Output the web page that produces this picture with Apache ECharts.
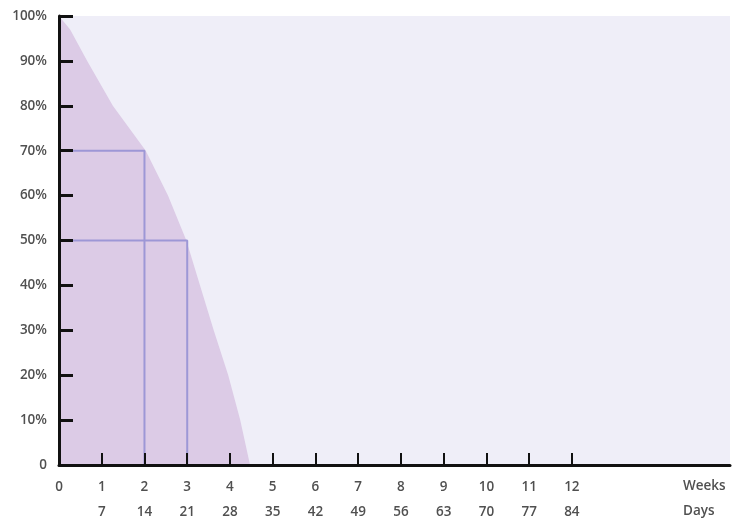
<!DOCTYPE html>
<html><head><meta charset="utf-8">
<script src="https://cdn.jsdelivr.net/npm/echarts@6/dist/echarts.min.js"></script>
<style>html,body{margin:0;padding:0;background:#fff}#c{width:740px;height:519px}</style>
</head><body><div id="c"></div>
<script>
// Curve: weeks at which each percentage level is reached
const curveWeeks = [0, 0.26, 0.66, 1.26, 2.03, 2.55, 2.98, 3.30, 3.62, 3.96, 4.24, 4.47];
const curvePct   = [100, 97, 90, 80, 70, 60, 50, 40, 30, 20, 10, 0];
// Reference markers
const refWeeks = [2, 3];
const refPct = [70, 50];
// Tick labels
const weekTicks = [0,1,2,3,4,5,6,7,8,9,10,11,12];
const dayLabels = ['',7,14,21,28,35,42,49,56,63,70,77,84];
const yTicks = [0,10,20,30,40,50,60,70,80,90,100];

const chart = echarts.init(document.getElementById('c'));
const txt = '#505050';
const font = 'Open Sans';
const fs = 13.5;
const refSeries = refWeeks.map((w,i)=>({
  type:'line', symbol:'none', silent:true, z:3,
  data:[[0,refPct[i]],[w,refPct[i]],[w,0]],
  lineStyle:{color:'#9d97d6', width:2}
}));
chart.setOption({
  animation:false,
  grid:{left:59, right:10, top:16, bottom:54, show:true, backgroundColor:'#efeef8', borderWidth:0, outerBoundsMode:'none', containLabel:false},
  xAxis:{
    type:'value', min:0, max:15.7, interval:1, z:10,
    axisLine:{lineStyle:{color:'#111', width:3}},
    axisTick:{inside:true, length:12, customValues:weekTicks.slice(1), lineStyle:{color:'#111', width:2}},
    splitLine:{show:false},
    axisLabel:{
      customValues:weekTicks, margin:10, color:txt, fontFamily:font, fontSize:fs, fontWeight:600, lineHeight:25,
      formatter:function(v){ const i=weekTicks.indexOf(v); return v + '\n' + (i>=0?dayLabels[i]:''); }
    }
  },
  yAxis:{
    type:'value', min:0, max:100, interval:10, z:10,
    axisLine:{lineStyle:{color:'#111', width:3}},
    axisTick:{inside:true, length:14, customValues:yTicks.slice(1), lineStyle:{color:'#111', width:3}},
    splitLine:{show:false},
    axisLabel:{customValues:yTicks, margin:12, color:txt, fontFamily:font, fontSize:fs, fontWeight:600,
      formatter:function(v){return v===0?'0':v+'%';}}
  },
  graphic:[
    {type:'text', left:683, top:479, style:{text:'Weeks', fill:txt, font:'600 13.5px "Open Sans"'}},
    {type:'text', left:683, top:504, style:{text:'Days', fill:txt, font:'600 13.5px "Open Sans"'}}
  ],
  series:[{
    type:'line', symbol:'none', silent:true, z:2,
    data:curveWeeks.map((w,i)=>[w,curvePct[i]]),
    lineStyle:{width:0}, areaStyle:{color:'#dccbe6', opacity:1}
  }].concat(refSeries)
});
</script></body></html>
